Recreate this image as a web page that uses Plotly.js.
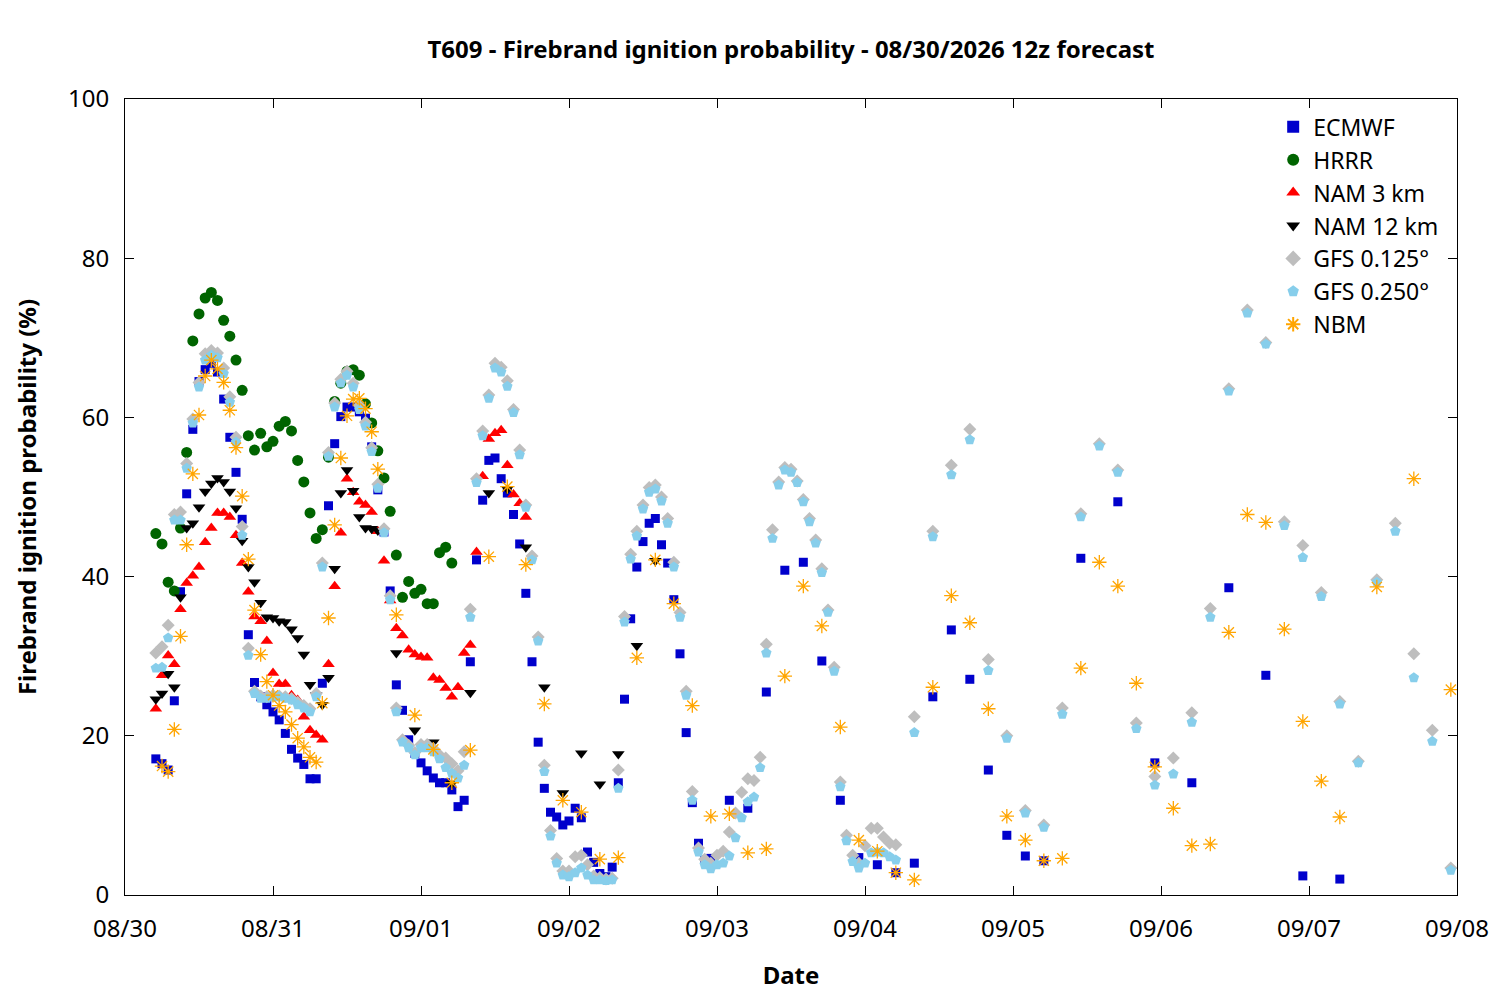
<!DOCTYPE html>
<html>
<head>
<meta charset="utf-8">
<script src="https://cdn.plot.ly/plotly-3.0.1.min.js"></script>
<style>html,body{margin:0;padding:0;background:#fff;}#chart{width:1500px;height:1000px;}</style>
</head>
<body>
<div id="chart"></div>
<script>
// ---------- time grid helpers (hours after 08/30 00:00) ----------
function range(a, b, step) { const r = []; for (let h = a; h <= b; h += step) r.push(h); return r; }

// ---------- data ----------
const ecmwfHours = [...range(5, 95, 1), ...range(98, 149, 3), ...range(155, 197, 6)];
const ecmwfValues = [
  17.1, 16.5, 15.7, 24.4, 38.1, 50.4, 58.5, 64.5, 66.0, 66.8,
  65.7, 62.3, 57.5, 53.1, 47.2, 32.7, 26.7, 24.9, 23.9, 23.0,
  22.0, 20.3, 18.3, 17.2, 16.4, 14.6, 14.6, 26.6, 48.9, 56.7,
  60.1, 61.3, 61.3, 60.7, 59.9, 56.3, 50.9, 45.6, 38.2, 26.4,
  23.2, 19.5, 17.8, 16.6, 15.6, 14.7, 14.1, 14.1, 13.2, 11.1,
  11.9, 29.3, 42.1, 49.6, 54.6, 54.9, 52.3, 50.5, 47.8, 44.1,
  37.9, 29.3, 19.2, 13.4, 10.4, 9.8, 8.8, 9.3, 10.9, 9.7,
  5.4, 4.1, 2.7, 2.3, 3.5, 14.1, 24.6, 34.7, 41.2, 44.4,
  46.7, 47.3, 44.0, 41.7, 37.1, 30.3, 20.4, 11.6, 6.5, 4.4, 4.6,
  11.9, 10.9, 25.5, 40.8, 41.8, 29.4, 11.9, 4.7, 3.8, 2.8, 4.0, 24.9, 33.3, 27.1, 15.7, 7.5, 4.9, 4.3,
  42.3, 49.4, 16.6, 14.1, 38.6, 27.6, 2.4, 2.0
];

const hrrrHours = range(5, 53, 1);
const hrrrValues = [
  45.4, 44.1, 39.3, 38.2, 46.1, 55.6, 69.6, 73.0, 75.0, 75.7,
  74.7, 72.2, 70.2, 67.2, 63.4, 57.7, 55.9, 58.0, 56.3, 57.0,
  58.9, 59.5, 58.3, 54.6, 51.9, 48.0, 44.8, 45.9, 55.0, 62.0,
  64.3, 65.8, 66.0, 65.3, 61.7, 59.3, 55.8, 52.4, 48.2, 42.7,
  37.4, 39.4, 37.9, 38.4, 36.6, 36.6, 43.0, 43.7, 41.7
];

const nam3Hours = range(5, 65, 1);
const nam3Values = [
  23.4, 27.6, 30.1, 29.0, 35.9, 39.2, 40.1, 41.2, 44.3, 46.1,
  48.0, 48.0, 47.5, 45.2, 41.7, 38.1, 35.0, 34.4, 31.9, 27.9,
  26.5, 26.5, 25.1, 24.5, 22.4, 20.7, 20.1, 19.5, 29.0, 38.8,
  45.5, 52.3, 50.6, 49.4, 49.0, 48.1, 45.7, 42.0, 37.0, 33.5,
  32.6, 30.8, 30.2, 29.9, 29.8, 27.3, 27.0, 26.0, 24.9, 26.1,
  30.4, 31.4, 43.1, 52.6, 57.3, 58.0, 58.4, 54.0, 50.3, 49.2, 47.5
];

const nam12Hours = [...range(5, 41, 1), ...range(44, 86, 3)];
const nam12Values = [
  24.6, 25.3, 27.8, 26.1, 37.4, 46.1, 46.7, 48.7, 50.7, 51.7,
  52.4, 51.9, 50.7, 48.6, 44.5, 41.2, 39.3, 36.7, 34.9, 34.8,
  34.4, 34.3, 33.4, 32.3, 30.2, 26.4, 25.1, 23.9, 27.3, 41.0,
  50.5, 53.4, 50.8, 47.5, 46.1, 46.0, 45.8,
  30.4, 20.7, 19.2, 14.0, 25.4, 50.5, 51.0, 43.7, 26.1, 12.8, 17.8, 13.9, 17.7, 31.3, 42.0
];

const gfsHours = [...range(5, 125, 1), ...range(128, 215, 3)];
const gfs0125Values = [
  30.4, 31.2, 33.9, 47.8, 48.1, 54.2, 59.8, 64.4, 68.0, 68.4,
  68.1, 66.2, 62.6, 57.5, 46.3, 31.0, 25.6, 25.0, 24.9, 25.1,
  25.0, 24.9, 24.7, 24.2, 23.8, 23.4, 25.3, 41.7, 55.6, 61.8,
  64.8, 65.8, 64.3, 61.5, 59.4, 56.2, 51.6, 46.0, 37.6, 23.5,
  19.5, 18.8, 17.9, 18.9, 18.9, 18.4, 17.6, 17.2, 16.5, 15.6,
  18.0, 35.9, 52.3, 58.3, 62.8, 66.8, 66.3, 64.6, 61.0, 55.9,
  49.0, 42.6, 32.4, 16.3, 8.1, 4.6, 3.0, 3.0, 4.8, 5.0,
  3.8, 2.4, 2.2, 2.0, 2.1, 15.7, 35.0, 42.8, 45.7, 49.0,
  51.2, 51.5, 50.0, 47.3, 41.8, 35.5, 25.6, 13.0, 5.9, 4.5,
  4.0, 5.0, 5.5, 7.9, 10.3, 12.9, 14.6, 14.4, 17.3, 31.5,
  45.9, 51.9, 53.7, 53.5, 52.0, 49.7, 47.3, 44.6, 41.0, 35.8,
  28.6, 14.2, 7.5, 5.0, 4.0, 6.2, 8.4, 8.4, 7.3, 6.5, 6.3,
  22.4, 45.7, 54.0, 58.5, 29.6, 20.0, 10.6, 8.8, 23.5, 47.9,
  56.7, 53.4, 21.6, 14.9, 17.2, 22.9, 36.0, 63.6, 73.5, 69.4,
  46.9, 43.9, 38.0, 24.3, 16.8, 39.6, 46.7, 30.3, 20.7, 3.4
];
const gfs0250Values = [
  28.5, 28.6, 32.3, 47.1, 47.1, 53.6, 59.3, 63.8, 67.2, 67.8,
  67.5, 65.5, 61.9, 56.9, 45.2, 30.1, 25.3, 24.7, 24.7, 24.9,
  24.9, 24.7, 24.5, 23.9, 23.5, 23.0, 24.9, 41.2, 55.1, 61.3,
  64.3, 65.3, 63.8, 61.0, 58.9, 55.7, 51.1, 45.5, 37.1, 23.0,
  19.2, 18.5, 17.6, 18.5, 18.5, 18.0, 17.1, 16.0, 15.3, 14.7,
  16.3, 34.9, 51.8, 57.7, 62.4, 66.2, 65.7, 63.9, 60.6, 55.3,
  48.7, 42.1, 31.9, 15.5, 7.4, 4.0, 2.5, 2.3, 2.8, 3.4,
  2.5, 1.9, 1.9, 1.8, 1.9, 13.4, 34.3, 42.2, 45.1, 48.5,
  50.6, 51.0, 49.5, 46.7, 41.2, 34.9, 25.1, 11.9, 5.4, 3.8,
  3.3, 3.8, 4.0, 4.9, 7.2, 9.7, 11.7, 12.3, 16.0, 30.4,
  44.8, 51.5, 53.4, 53.1, 51.8, 49.4, 46.9, 44.2, 40.5, 35.5,
  28.1, 13.6, 6.8, 4.2, 3.4, 4.0, 5.3, 5.4, 5.3, 4.8, 4.4,
  20.4, 45.0, 52.8, 57.2, 28.2, 19.7, 10.3, 8.5, 22.7, 47.5,
  56.4, 53.1, 20.9, 13.8, 15.2, 21.7, 34.9, 63.3, 73.1, 69.2,
  46.4, 42.4, 37.5, 24.0, 16.6, 39.3, 45.7, 27.3, 19.3, 3.1
];

const nbmHours = [...range(6, 41, 1), ...range(44, 197, 3), 203, 209, 215];
const nbmValues = [
  16.2, 15.5, 20.8, 32.5, 44.0, 52.9, 60.3, 65.2, 67.2, 66.1,
  64.4, 60.9, 56.2, 50.1, 42.2, 35.8, 30.2, 26.8, 25.1, 23.8,
  23.0, 21.4, 19.7, 18.6, 17.3, 16.7, 24.1, 34.8, 46.5, 54.9,
  60.2, 62.3, 62.4, 61.1, 58.2, 53.5,
  35.2, 22.6, 18.3, 14.1, 18.2, 42.5, 51.3, 41.5, 24.0, 11.9,
  10.4, 4.5, 4.7, 29.8, 42.1, 36.6, 23.8, 9.9, 10.2, 5.3,
  5.8, 27.5, 38.8, 33.8, 21.1, 6.9, 5.5, 2.8, 1.9, 26.1,
  37.6, 34.2, 23.4, 9.9, 6.9, 4.3, 4.6, 28.5, 41.8, 38.8,
  26.6, 16.1, 10.9, 6.2, 6.4, 33.0, 47.8, 46.8, 33.4, 21.8,
  14.3, 9.8,
  38.7, 52.3, 25.8
];

const dateTicks = ['08/30', '08/31', '09/01', '09/02', '09/03', '09/04', '09/05', '09/06', '09/07', '09/08'];

// ---------- build ----------
const BASE = Date.UTC(2026, 7, 30, 0, 0, 0);
function toDate(h) { return new Date(BASE + h * 3600000).toISOString().slice(0, 19).replace('T', ' '); }

const series = [
  { name: 'ECMWF', hours: ecmwfHours, values: ecmwfValues, symbol: 'square', size: 9, color: '#0000cc' },
  { name: 'HRRR', hours: hrrrHours, values: hrrrValues, symbol: 'circle', size: 11, color: '#006400' },
  { name: 'NAM 3 km', hours: nam3Hours, values: nam3Values, symbol: 'triangle-up', size: 11, color: '#ff0000' },
  { name: 'NAM 12 km', hours: nam12Hours, values: nam12Values, symbol: 'triangle-down', size: 11, color: '#000000' },
  { name: 'GFS 0.125°', hours: gfsHours, values: gfs0125Values, symbol: 'diamond', size: 10, color: '#bebebe' },
  { name: 'GFS 0.250°', hours: gfsHours, values: gfs0250Values, symbol: 'pentagon', size: 11, color: '#87ceeb' },
  { name: 'NBM', hours: nbmHours, values: nbmValues, symbol: 'asterisk-open', size: 12, color: '#ffa500' }
];

const traces = series.map((s, i) => ({
  type: 'scatter',
  mode: 'markers',
  name: s.name,
  legendgroup: 'g' + i,
  x: s.hours.map(toDate),
  y: s.values,
  marker: {
    symbol: s.symbol,
    size: s.size,
    color: s.color,
    line: s.symbol === 'asterisk-open' ? { color: s.color, width: 1.3 } : { width: 0 }
  },
  hovertemplate: '%{x}<br>%{y:.1f}%<extra>' + s.name + '</extra>'
}));

const FONT = 'Noto Sans, DejaVu Sans, sans-serif';
const tickVals = dateTicks.map((t, i) => toDate(i * 24));

const layout = {
  width: 1500,
  height: 1000,
  paper_bgcolor: '#ffffff',
  plot_bgcolor: '#ffffff',
  margin: { l: 125, r: 43, t: 99, b: 105 },
  font: { family: FONT, size: 24, color: '#000000' },
  title: {
    text: '<b>T609 - Firebrand ignition probability - 08/30/2026 12z forecast</b>',
    font: { family: FONT, size: 24, color: '#000000' },
    x: 0.5, xref: 'paper', xanchor: 'center',
    y: 0.95, yref: 'container', yanchor: 'middle'
  },
  xaxis: {
    type: 'date',
    range: [toDate(0), toDate(216)],
    tickvals: tickVals,
    ticktext: dateTicks,
    ticks: 'inside',
    ticklen: 9,
    tickcolor: '#000000',
    mirror: 'allticks',
    showline: true,
    linecolor: '#000000',
    linewidth: 1,
    showgrid: false,
    zeroline: false,
    tickfont: { family: FONT, size: 24, color: '#000000' },
    ticklabelstandoff: 12,
    title: { text: '<b>Date</b>', font: { family: FONT, size: 24, color: '#000000' }, standoff: 24 }
  },
  yaxis: {
    range: [0, 100],
    tickvals: [0, 20, 40, 60, 80, 100],
    ticks: 'inside',
    ticklen: 9,
    tickcolor: '#000000',
    mirror: 'allticks',
    showline: true,
    linecolor: '#000000',
    linewidth: 1,
    showgrid: false,
    zeroline: false,
    tickfont: { family: FONT, size: 24, color: '#000000' },
    ticklabelstandoff: 10,
    title: { text: '<b>Firebrand ignition probability (%)</b>', font: { family: FONT, size: 24, color: '#000000' }, standoff: 24 }
  },
  showlegend: true,
  legend: {
    x: 0.862, xanchor: 'left',
    y: 0.992, yanchor: 'top',
    bgcolor: 'rgba(255,255,255,0)',
    borderwidth: 0,
    font: { family: FONT, size: 23, color: '#000000' },
    tracegroupgap: 0,
    itemsizing: 'constant'
  }
};

Plotly.newPlot('chart', traces, layout, { displayModeBar: false, staticPlot: true });
</script>
</body>
</html>
